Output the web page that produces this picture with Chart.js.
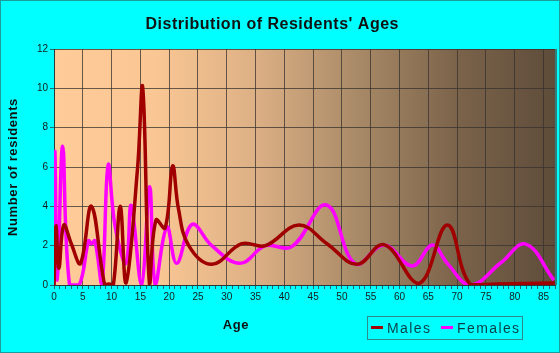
<!DOCTYPE html>
<html>
<head>
<meta charset="utf-8">
<script src="https://cdn.jsdelivr.net/npm/chart.js@4"></script>
<style>
  html, body { margin: 0; padding: 0; background: #00FFFF; }
  #wrap { width: 560px; height: 353px; position: relative; }
</style>
</head>
<body>
<div id="wrap"><canvas id="c" width="560" height="353"></canvas></div>
<script>
const chartTitle = "Distribution of Residents' Ages";
const xTitle = "Age";
const yTitle = "Number of residents";
const seriesNames = ["Males", "Females"];

const maleAges   = [0, 0.35, 0.85, 1.7, 3.0, 4.6, 6.5, 8.8, 9.5, 10.3, 11.5, 12.5, 14.5, 15.4, 16.6, 17.7, 19.3, 20.6, 21.6, 23.4, 27.4, 32.6, 36.7, 42.5, 47.4, 52.6, 57.3, 63.4, 68.3, 72.3, 77, 87];
const maleCounts = [0, 3.0, 0.85, 3.05, 2.1, 1.1, 4.0, 0.0, 0.05, 0.0, 4.0, 0.1, 5.9, 10.05, 0.0, 3.3, 2.9, 6.05, 3.9, 2.0, 1.05, 2.1, 2.0, 3.05, 2.1, 1.05, 2.05, 0.08, 3.05, 0.02, 0.05, 0.1];

const femaleAges   = [0, 0.15, 0.6, 1.5, 2.7, 4.4, 6.0, 6.5, 7.1, 8.3, 9.4, 10.6, 12.5, 13.4, 15.2, 16.6, 17.6, 19.6, 21.3, 24, 27.4, 32.3, 36.7, 41.3, 47.3, 52.3, 57.3, 62.2, 65.7, 68.3, 72.3, 77.6, 81.9, 86.8];
const femaleCounts = [0, 6.8, 0.25, 7.05, 0.0, 0.0, 2.25, 2.1, 2.25, 0.0, 6.1, 3.0, 1.1, 4.05, 0.0, 5.0, 0.0, 2.95, 1.1, 3.08, 2.0, 1.1, 2.0, 1.95, 4.07, 1.08, 2.03, 0.97, 2.03, 1.1, 0.0, 1.13, 2.08, 0.25];

const yTickValues = [0, 2, 4, 6, 8, 10, 12];
const xMax = 87;

const toPts = (xs, ys) => xs.map((x, i) => ({ x: x, y: ys[i] }));

const MALE_COLOR = '#A00000';
const FEMALE_COLOR = '#FF00FF';
const FONT = '"Liberation Sans", Arial, sans-serif';

const decor = {
  id: 'decor',
  beforeDraw(chart) {
    const ctx = chart.ctx, a = chart.chartArea;
    ctx.save();
    ctx.fillStyle = '#00FFFF';
    ctx.fillRect(0, 0, chart.width, chart.height);
    ctx.strokeStyle = '#1E9C9C';
    ctx.lineWidth = 1;
    ctx.strokeRect(0.5, 0.5, chart.width - 1, chart.height - 1);
    const g = ctx.createLinearGradient(a.left, 0, a.right, 0);
    g.addColorStop(0, '#FFCC99');
    g.addColorStop(0.2, '#FAC794');
    g.addColorStop(0.4, '#DDB085');
    g.addColorStop(0.6, '#AA8B68');
    g.addColorStop(0.8, '#7C644B');
    g.addColorStop(1, '#5E4C3A');
    ctx.fillStyle = g;
    ctx.fillRect(a.left, a.top, a.right - a.left, a.bottom - a.top);
    ctx.restore();
  },
  afterDraw(chart) {
    const ctx = chart.ctx, a = chart.chartArea;
    ctx.save();
    // right border of plot
    ctx.strokeStyle = '#2F7F7F';
    ctx.lineWidth = 2;
    ctx.beginPath();
    ctx.moveTo(a.right + 1, a.top);
    ctx.lineTo(a.right + 1, a.bottom);
    ctx.stroke();

    // title
    ctx.fillStyle = '#111';
    ctx.font = 'bold 16px ' + FONT;
    ctx.textAlign = 'left';
    ctx.textBaseline = 'alphabetic';
    let w = ctx.measureText(chartTitle).width;
    let sp = (253 - w) / (chartTitle.length - 1);
    ctx.letterSpacing = sp + 'px';
    ctx.fillText(chartTitle, 272 - 253 / 2, 28.5);
    ctx.letterSpacing = '0px';

    // y title
    ctx.font = 'bold 13px ' + FONT;
    ctx.save();
    ctx.translate(17, 167);
    ctx.rotate(-Math.PI / 2);
    ctx.textAlign = 'center';
    ctx.letterSpacing = '0.6px';
    ctx.fillText(yTitle, 0, 0);
    ctx.restore();

    // x title
    ctx.textAlign = 'center';
    ctx.letterSpacing = '0.6px';
    ctx.fillText(xTitle, 236, 329);
    ctx.letterSpacing = '0px';

    // legend
    ctx.strokeStyle = '#2E8B8B';
    ctx.lineWidth = 1;
    ctx.strokeRect(367.5, 316.5, 155, 23);
    ctx.lineWidth = 3;
    ctx.strokeStyle = MALE_COLOR;
    ctx.beginPath(); ctx.moveTo(371, 327.5); ctx.lineTo(383, 327.5); ctx.stroke();
    ctx.strokeStyle = FEMALE_COLOR;
    ctx.beginPath(); ctx.moveTo(441, 327.5); ctx.lineTo(453, 327.5); ctx.stroke();
    ctx.fillStyle = '#0B3F46';
    ctx.font = '14px ' + FONT;
    ctx.textAlign = 'left';
    ctx.letterSpacing = '1.4px';
    ctx.fillText(seriesNames[0], 387, 332.5);
    ctx.fillText(seriesNames[1], 457, 332.5);
    ctx.letterSpacing = '0px';
    ctx.restore();
  }
};

new Chart(document.getElementById('c'), {
  type: 'line',
  data: {
    datasets: [
      { label: seriesNames[0], data: toPts(maleAges, maleCounts), borderColor: MALE_COLOR, borderWidth: 3.5, pointRadius: 0, tension: 0.4, fill: false },
      { label: seriesNames[1], data: toPts(femaleAges, femaleCounts), borderColor: FEMALE_COLOR, borderWidth: 3.5, pointRadius: 0, tension: 0.4, fill: false }
    ]
  },
  options: {
    responsive: false,
    animation: false,
    devicePixelRatio: 1,
    layout: { padding: { top: 49, right: 5, left: 0, bottom: 0 } },
    plugins: { legend: { display: false }, title: { display: false }, tooltip: { enabled: false } },
    scales: {
      x: {
        type: 'linear', min: 0, max: xMax,
        afterFit: s => { s.height = 68; },
        afterBuildTicks: s => { const t = []; for (let v = 0; v <= xMax; v++) t.push({ value: v }); s.ticks = t; },
        ticks: {
          autoSkip: false, maxRotation: 0, minRotation: 0, padding: 2,
          color: '#1A1A1A', font: { family: FONT, size: 10 },
          callback: v => (v % 5 === 0 ? String(v) : '')
        },
        grid: {
          color: c => (c.tick && c.tick.value % 5 === 0 && c.tick.value !== 0 ? 'rgba(55,50,45,0.75)' : 'rgba(0,0,0,0)'),
          tickColor: '#1F6F6F', tickLength: 4, lineWidth: 1
        },
        border: { color: '#2A3A3A', width: 1 }
      },
      y: {
        min: 0, max: 12,
        afterFit: s => { s.width = 54; },
        afterBuildTicks: s => { s.ticks = yTickValues.map(v => ({ value: v })); },
        ticks: { padding: 2, color: '#1A1A1A', font: { family: FONT, size: 10 } },
        grid: {
          color: c => (c.tick && c.tick.value !== 0 ? 'rgba(55,50,45,0.75)' : 'rgba(0,0,0,0)'),
          tickColor: '#1F6F6F', tickLength: 4, lineWidth: 1
        },
        border: { color: '#2A3A3A', width: 1 }
      }
    }
  },
  plugins: [decor]
});
</script>
</body>
</html>
